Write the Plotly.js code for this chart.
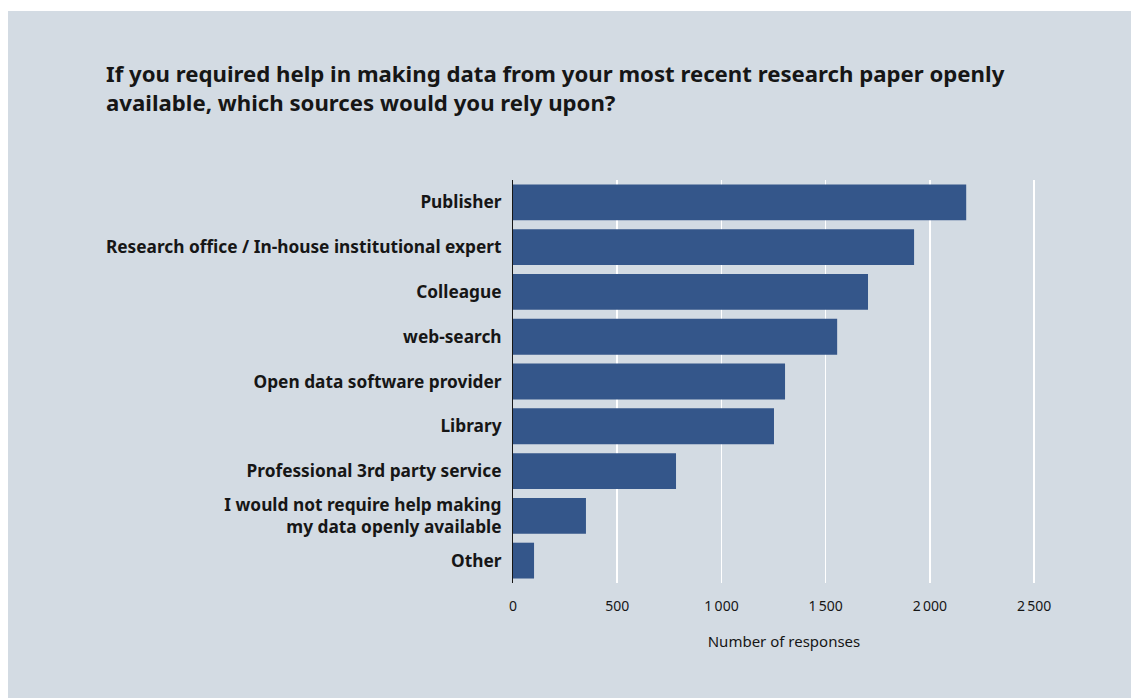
<!DOCTYPE html>
<html>
<head>
<meta charset="utf-8">
<script src="https://cdn.plot.ly/plotly-3.0.1.min.js"></script>
<style>
html,body{margin:0;padding:0;background:#ffffff;width:1131px;height:698px;overflow:hidden;}
#chart{position:absolute;left:8px;top:11px;width:1123px;height:687px;}
</style>
</head>
<body>
<div id="chart"></div>
<script>
const categories = [
  "Publisher",
  "Research office / In-house institutional expert",
  "Colleague",
  "web-search",
  "Open data software provider",
  "Library",
  "Professional 3rd party service",
  "I would not require help making<br>my data openly available",
  "Other"
];
const responses = [2174, 1924, 1703, 1555, 1305, 1252, 782, 350, 101];
const tickValues = [0, 500, 1000, 1500, 2000, 2500];
const tickLabels = ["0", "500", "1\u2009000", "1\u2009500", "2\u2009000", "2\u2009500"];

const font = "'Noto Sans', Roboto, sans-serif";
const data = [{
  type: "bar",
  orientation: "h",
  x: responses,
  y: categories,
  marker: {color: "#34568a"},
  hoverinfo: "x+y"
}];
const layout = {
  width: 1123, height: 687,
  paper_bgcolor: "#d3dbe3",
  plot_bgcolor: "#d3dbe3",
  font: {family: font, color: "#161616"},
  margin: {l: 505, r: 76, t: 169, b: 115},
  bargap: 0.2,
  showlegend: false,
  title: {
    text: "<b>If you required help in making data from your most recent research paper openly<br>available, which sources would you rely upon?</b>",
    font: {family: font, size: 22.2, color: "#161616"},
    xref: "container", yref: "container",
    x: 98/1123, xanchor: "left",
    y: 1 - 71/687, yanchor: "top"
  },
  xaxis: {
    range: [0, 2600],
    tickvals: tickValues,
    ticktext: tickLabels,
    showgrid: true,
    gridcolor: "#ffffff",
    gridwidth: 1.5,
    zeroline: false,
    showline: false,
    ticks: "",
    ticklabelstandoff: 13,
    tickfont: {family: font, size: 14, color: "#161616"},
    title: {text: "Number of responses", font: {family: font, size: 15, color: "#161616"}, standoff: 22},
    fixedrange: true
  },
  yaxis: {
    autorange: "reversed",
    showgrid: false,
    showline: true,
    linecolor: "#161616",
    linewidth: 1,
    ticks: "",
    ticklabelstandoff: 7,
    tickfont: {family: font, size: 17.3, color: "#161616", weight: "bold"},
    fixedrange: true
  }
};
Plotly.newPlot("chart", data, layout, {displayModeBar: false, staticPlot: true});
</script>
</body>
</html>
